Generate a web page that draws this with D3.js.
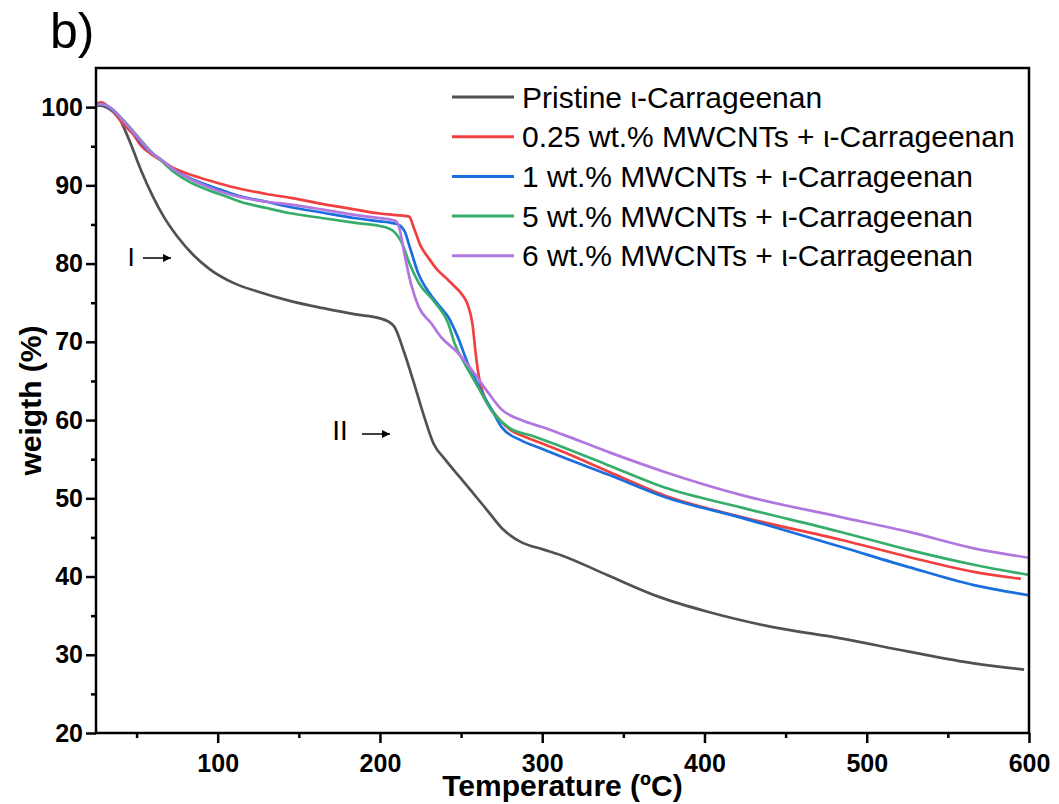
<!DOCTYPE html>
<html>
<head>
<meta charset="utf-8">
<script src="https://cdn.jsdelivr.net/npm/d3@7"></script>
<style>
  html, body { margin: 0; padding: 0; background: #fff; }
  svg { display: block; font-family: "Liberation Sans", Arial, sans-serif; }
</style>
</head>
<body>
<div id="chart"></div>
<script>
// TGA curves: temperature (ºC) and weight (%)
const pristineT = [25, 28, 32, 36, 40, 43, 47, 53, 60, 67, 75, 85, 95, 110, 125, 145, 165, 185, 200, 205, 209, 215, 221, 227, 233, 240, 250, 256, 266, 276, 287, 300, 312, 340, 372, 402, 443, 484, 526, 566, 597];
const pristineW = [100.2, 100.2, 99.9, 99.3, 98.3, 97.0, 95.0, 91.8, 88.6, 85.9, 83.5, 81.1, 79.3, 77.5, 76.4, 75.2, 74.3, 73.5, 73.0, 72.6, 71.9, 68.6, 64.7, 60.6, 57.0, 55.0, 52.5, 51.0, 48.5, 46.0, 44.4, 43.5, 42.7, 40.2, 37.4, 35.5, 33.5, 32.1, 30.4, 28.9, 28.1];

const cnt025T = [25, 28, 34, 42, 48, 53, 59, 65, 72, 80, 90, 100, 115, 130, 145, 165, 185, 200, 210, 218, 221, 225, 230, 235, 240, 245, 250, 254, 257, 259, 261, 263, 266, 270, 280, 290, 300, 312, 341, 375, 423, 484, 526, 566, 595];
const cnt025W = [100.4, 100.6, 99.8, 97.8, 96.5, 95.0, 94.0, 93.2, 92.3, 91.6, 90.9, 90.3, 89.5, 88.9, 88.4, 87.6, 86.9, 86.4, 86.2, 86.0, 84.5, 82.3, 80.7, 79.3, 78.3, 77.3, 76.2, 74.8, 72.3, 68.5, 65.5, 63.8, 62.2, 61.0, 58.8, 57.8, 57.0, 56.0, 53.4, 50.4, 47.6, 44.7, 42.5, 40.6, 39.7];

const cnt1T = [25, 28, 34, 42, 48, 53, 59, 65, 73, 82, 94, 105, 114, 130, 143, 165, 185, 200, 207, 212, 215, 219, 223.5, 228, 232, 237, 242, 248, 254, 260, 265, 269, 275, 287, 299, 312, 341, 375, 423, 484, 526, 566, 600];
const cnt1W = [100.2, 100.4, 99.8, 98.2, 96.8, 95.4, 94.2, 93.3, 92.0, 91.0, 90.0, 89.2, 88.6, 87.9, 87.3, 86.5, 85.8, 85.4, 85.2, 84.9, 84.2, 81.7, 78.8, 77.0, 75.8, 74.5, 73.2, 70.6, 67.3, 64.7, 62.7, 61.3, 59.1, 57.4, 56.4, 55.3, 53.0, 50.2, 47.5, 43.8, 41.2, 38.9, 37.6];

const cnt5T = [25, 28, 34, 42, 48, 53, 59, 65, 73, 82, 94, 105, 114, 130, 143, 165, 185, 200, 204, 208, 213.6, 218, 224, 234, 242, 246, 252, 260.5, 268.5, 279, 295, 312, 341, 375, 423, 484, 526, 566, 600];
const cnt5W = [100.2, 100.4, 99.9, 98.3, 96.9, 95.7, 94.3, 93.2, 91.7, 90.5, 89.4, 88.6, 87.9, 87.1, 86.5, 85.8, 85.2, 84.8, 84.6, 84.2, 82.6, 80.1, 77.5, 75.0, 72.4, 69.8, 67.3, 64.2, 61.3, 59.1, 57.9, 56.6, 54.2, 51.4, 48.8, 45.7, 43.4, 41.5, 40.2];

const cnt6T = [25, 28, 34, 42, 48, 53, 59, 65, 73, 82, 94, 105, 114, 130, 143, 165, 185, 200, 207, 210, 212, 215, 219, 224, 231.5, 237.7, 248, 258, 266.7, 274.7, 287, 300, 312, 341, 375, 423, 484, 526, 566, 600];
const cnt6W = [100.2, 100.4, 99.9, 98.2, 96.8, 95.6, 94.2, 93.3, 92.0, 90.9, 89.8, 89.0, 88.5, 87.9, 87.6, 86.9, 86.2, 85.8, 85.6, 85.4, 84.5, 81.3, 77.5, 74.4, 72.4, 70.6, 68.6, 66.0, 63.5, 61.4, 60.0, 59.1, 58.2, 55.9, 53.4, 50.4, 47.6, 45.7, 43.6, 42.4];

const seriesNames = [
    "Pristine ι-Carrageenan",
    "0.25 wt.% MWCNTs + ι-Carrageenan",
    "1 wt.% MWCNTs + ι-Carrageenan",
    "5 wt.% MWCNTs + ι-Carrageenan",
    "6 wt.% MWCNTs + ι-Carrageenan"
];
const seriesColors = ["#515151", "#F14040", "#1A6FDF", "#37AD6B", "#B177DE"];

const xMajorTicks = [100, 200, 300, 400, 500, 600];
const xMinorTicks = [50, 150, 250, 350, 450, 550];
const yMajorTicks = [20, 30, 40, 50, 60, 70, 80, 90, 100];
const yMinorTicks = [25, 35, 45, 55, 65, 75, 85, 95];

const zip = (ts, ws) => ts.map((t, i) => ({ t: t, w: ws[i] }));
const series = [
    zip(pristineT, pristineW),
    zip(cnt025T, cnt025W),
    zip(cnt1T, cnt1W),
    zip(cnt5T, cnt5W),
    zip(cnt6T, cnt6W)
];

const W = 1059, H = 804;
const m = { top: 68, right: 30, bottom: 71, left: 96 };

const svg = d3.select("#chart").append("svg")
    .attr("width", W).attr("height", H);

const x = d3.scaleLinear().domain([25, 600]).range([m.left, W - m.right]);
const y = d3.scaleLinear().domain([20, 105]).range([H - m.bottom, m.top]);

// curves
const line = d3.line()
    .x(d => x(d.t))
    .y(d => y(d.w))
    .curve(d3.curveMonotoneX);

series.forEach((s, i) => {
    svg.append("path")
        .datum(s)
        .attr("fill", "none")
        .attr("stroke", seriesColors[i])
        .attr("stroke-width", 2.7)
        .attr("stroke-linejoin", "round")
        .attr("d", line);
});

// axes
function styleAxis(g) {
    g.select(".domain").remove();
    g.selectAll(".tick line").attr("stroke", "#000").attr("stroke-width", 2.5);
    g.selectAll(".tick text")
        .attr("fill", "#000")
        .style("font-size", "25px")
        .style("font-weight", "bold");
}

svg.append("g")
    .attr("transform", `translate(0,${y(20)})`)
    .call(d3.axisBottom(x).tickValues(xMajorTicks).tickSize(10).tickSizeOuter(0).tickPadding(11))
    .call(styleAxis);
svg.append("g")
    .attr("transform", `translate(0,${y(20)})`)
    .call(d3.axisBottom(x).tickValues(xMinorTicks).tickSize(5).tickFormat(""))
    .call(styleAxis);

svg.append("g")
    .attr("transform", `translate(${x(25)},0)`)
    .call(d3.axisLeft(y).tickValues(yMajorTicks).tickSize(10).tickSizeOuter(0).tickPadding(3))
    .call(styleAxis);
svg.append("g")
    .attr("transform", `translate(${x(25)},0)`)
    .call(d3.axisLeft(y).tickValues(yMinorTicks).tickSize(5).tickFormat(""))
    .call(styleAxis);

// frame
svg.append("rect")
    .attr("x", x(25)).attr("y", y(105))
    .attr("width", x(600) - x(25)).attr("height", y(20) - y(105))
    .attr("fill", "none").attr("stroke", "#000").attr("stroke-width", 2.5);

// axis titles
svg.append("text")
    .attr("x", (x(25) + x(600)) / 2).attr("y", 796)
    .attr("text-anchor", "middle")
    .style("font-size", "30px").style("font-weight", "bold")
    .text("Temperature (ºC)");

svg.append("text")
    .attr("transform", `translate(41,${(y(20) + y(105)) / 2}) rotate(-90)`)
    .attr("text-anchor", "middle")
    .style("font-size", "30px").style("font-weight", "bold")
    .text("weigth (%)");

// panel label
svg.append("text")
    .attr("x", 50).attr("y", 48)
    .style("font-size", "50px")
    .text("b)");

// legend
const legend = svg.append("g");
seriesNames.forEach((name, i) => {
    const ly = 97 + i * 39.7;
    legend.append("line")
        .attr("x1", 452).attr("x2", 514).attr("y1", ly).attr("y2", ly)
        .attr("stroke", seriesColors[i]).attr("stroke-width", 3);
    legend.append("text")
        .attr("x", 522).attr("y", ly).attr("dy", "0.35em")
        .style("font-size", "30px")
        .text(name);
});

// stage markers
svg.append("defs").append("marker")
    .attr("id", "head")
    .attr("viewBox", "0 0 10 10")
    .attr("refX", 10).attr("refY", 5)
    .attr("markerWidth", 14).attr("markerHeight", 8)
    .attr("markerUnits", "userSpaceOnUse")
    .attr("orient", "auto")
    .append("path").attr("d", "M0,0L10,5L0,10Z").attr("fill", "#000");

const marks = [
    { label: "I", tx: 131, ty: 266, size: 26, ax1: 143, ax2: 171, ay: 258 },
    { label: "II", tx: 340, ty: 440, size: 28, ax1: 362, ax2: 390, ay: 434 }
];
marks.forEach(d => {
    svg.append("text")
        .attr("x", d.tx).attr("y", d.ty)
        .attr("text-anchor", "middle")
        .style("font-size", d.size + "px")
        .text(d.label);
    svg.append("line")
        .attr("x1", d.ax1).attr("x2", d.ax2).attr("y1", d.ay).attr("y2", d.ay)
        .attr("stroke", "#000").attr("stroke-width", 1.5)
        .attr("marker-end", "url(#head)");
});
</script>
</body>
</html>
